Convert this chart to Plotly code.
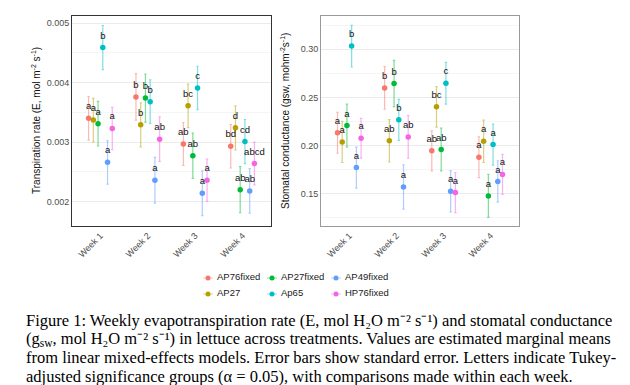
import plotly.graph_objects as go

# ---------------- data ----------------
weeks = ["Week 1", "Week 2", "Week 3", "Week 4"]
treatments = ["AP76fixed", "AP27", "AP27fixed", "Ap65", "AP49fixed", "HP76fixed"]
colors = ["#F8766D", "#B79F00", "#00BA38", "#00BFC4", "#619CFF", "#F564E3"]

# Transpiration rate E (mol m-2 s-1): estimated marginal means, SE, letters per week
e_mean_AP76fixed = [0.00340, 0.00376, 0.00297, 0.00293]
e_mean_AP27 = [0.00337, 0.00329, 0.00361, 0.00324]
e_mean_AP27fixed = [0.00331, 0.00374, 0.00277, 0.00220]
e_mean_Ap65 = [0.00459, 0.00368, 0.00391, 0.00301]
e_mean_AP49fixed = [0.00266, 0.00236, 0.00214, 0.00218]
e_mean_HP76fixed = [0.00323, 0.00305, 0.00236, 0.00264]

e_se_AP76fixed = [0.000365, 0.000390, 0.000360, 0.000365]
e_se_AP27 = [0.000365, 0.000370, 0.000365, 0.000370]
e_se_AP27fixed = [0.000375, 0.000405, 0.000380, 0.000387]
e_se_Ap65 = [0.000370, 0.000365, 0.000365, 0.000370]
e_se_AP49fixed = [0.000365, 0.000385, 0.000375, 0.000375]
e_se_HP76fixed = [0.000355, 0.000375, 0.000355, 0.000360]

e_lab_AP76fixed = ["a", "b", "ab", "bd"]
e_lab_AP27 = ["a", "b", "bc", "d"]
e_lab_AP27fixed = ["a", "b", "ab", "ab"]
e_lab_Ap65 = ["b", "b", "c", "cd"]
e_lab_AP49fixed = ["a", "a", "a", "ab"]
e_lab_HP76fixed = ["a", "ab", "a", "abcd"]

# Stomatal conductance gsw
g_mean_AP76fixed = [0.2132, 0.2599, 0.1945, 0.1879]
g_mean_AP27 = [0.2038, 0.2049, 0.2402, 0.2045]
g_mean_AP27fixed = [0.2208, 0.2644, 0.1958, 0.1477]
g_mean_Ap65 = [0.3033, 0.2267, 0.2648, 0.2010]
g_mean_AP49fixed = [0.1771, 0.1570, 0.1525, 0.1626]
g_mean_HP76fixed = [0.2076, 0.2090, 0.1511, 0.1700]

g_se_AP76fixed = [0.0212, 0.0222, 0.0208, 0.0212]
g_se_AP27 = [0.0214, 0.0220, 0.0211, 0.0219]
g_se_AP27fixed = [0.0222, 0.0240, 0.0222, 0.0224]
g_se_Ap65 = [0.0217, 0.0213, 0.0217, 0.0213]
g_se_AP49fixed = [0.0213, 0.0230, 0.0215, 0.0214]
g_se_HP76fixed = [0.0207, 0.0220, 0.0208, 0.0208]

g_lab_AP76fixed = ["a", "b", "ab", "a"]
g_lab_AP27 = ["a", "ab", "bc", "a"]
g_lab_AP27fixed = ["a", "b", "ab", "a"]
g_lab_Ap65 = ["b", "b", "c", "a"]
g_lab_AP49fixed = ["a", "a", "a", "a"]
g_lab_HP76fixed = ["a", "ab", "a", "a"]

e_ticks = [0.002, 0.003, 0.004, 0.005]
g_ticks = [0.15, 0.20, 0.25, 0.30]

e_title = "Transpiration rate (E, mol m<sup>-2</sup> s<sup>-1</sup>)"
g_title = "Stomatal conductance (gsw, mohm<sup>-2</sup>s<sup>-1</sup>)"

caption_lines = [
    "Figure 1: Weekly evapotranspiration rate (E, mol H₂O m⁻² s⁻¹) and stomatal conductance",
    "(g<sub>sw</sub>, mol H₂O m⁻² s⁻¹) in lettuce across treatments. Values are estimated marginal means",
    "from linear mixed-effects models. Error bars show standard error. Letters indicate Tukey-",
    "adjusted significance groups (α = 0.05), with comparisons made within each week.",
]

# ---------------- assemble ----------------
e_means = [e_mean_AP76fixed, e_mean_AP27, e_mean_AP27fixed, e_mean_Ap65, e_mean_AP49fixed, e_mean_HP76fixed]
e_ses = [e_se_AP76fixed, e_se_AP27, e_se_AP27fixed, e_se_Ap65, e_se_AP49fixed, e_se_HP76fixed]
e_labs = [e_lab_AP76fixed, e_lab_AP27, e_lab_AP27fixed, e_lab_Ap65, e_lab_AP49fixed, e_lab_HP76fixed]
g_means = [g_mean_AP76fixed, g_mean_AP27, g_mean_AP27fixed, g_mean_Ap65, g_mean_AP49fixed, g_mean_HP76fixed]
g_ses = [g_se_AP76fixed, g_se_AP27, g_se_AP27fixed, g_se_Ap65, g_se_AP49fixed, g_se_HP76fixed]
g_labs = [g_lab_AP76fixed, g_lab_AP27, g_lab_AP27fixed, g_lab_Ap65, g_lab_AP49fixed, g_lab_HP76fixed]

W, H = 630, 385


def fx(p):
    return p / W


def fy(p):
    return 1 - p / H


def rgba(hexcol, a):
    h = hexcol.lstrip("#")
    r, g, b = int(h[0:2], 16), int(h[2:4], 16), int(h[4:6], 16)
    return f"rgba({r},{g},{b},{a})"


DODGE = 0.1
fig = go.Figure()
text_traces = []
for k, (name, col) in enumerate(zip(treatments, colors)):
    off = (k - (len(treatments) - 1) / 2) * DODGE
    xs = [i + 1 + off for i in range(len(weeks))]
    panels = [(e_means[k], e_ses[k], e_labs[k], "x", "y"),
              (g_means[k], g_ses[k], g_labs[k], "x2", "y2")]
    for p, (means, ses, labs, xa, ya) in enumerate(panels):
        fig.add_trace(go.Scatter(
            x=xs, y=means, mode="markers", name=name,
            marker=dict(color=col, size=5.5),
            error_y=dict(type="data", array=ses, color=rgba(col, 0.5), thickness=1.2, width=1.2),
            xaxis=xa, yaxis=ya, showlegend=False,
        ))
        text_traces.append(go.Scatter(
            x=xs, y=means, mode="markers+text", text=labs, textposition="top center",
            marker=dict(size=9, color="rgba(0,0,0,0)"),
            textfont=dict(size=9.5, color="#111111", family="Liberation Sans, Arial"),
            xaxis=xa, yaxis=ya, showlegend=False, hoverinfo="skip",
        ))
for t in text_traces:
    fig.add_trace(t)

# ---- legend: 3 columns x 2 rows, filled column-wise (ggplot guide), on a pixel-scaled helper axis
LEG_X0, LEG_X1, LEG_Y0, LEG_Y1 = 150, 450, 260, 296
LEG_COL_X = [200, 264, 328]
LEG_ROW_Y = [270, 286]
leg_x = [LEG_COL_X[k // 2] for k in range(len(treatments))]
leg_y = [LEG_ROW_Y[k % 2] for k in range(len(treatments))]
for k, (name, col) in enumerate(zip(treatments, colors)):
    fig.add_trace(go.Scatter(
        x=[leg_x[k]], y=[leg_y[k]], mode="markers", marker=dict(color=col, size=5),
        error_x=dict(type="constant", value=5, color=rgba(col, 0.45), thickness=1, width=0),
        xaxis="x3", yaxis="y3", showlegend=False, hoverinfo="skip", name=name,
    ))
fig.add_trace(go.Scatter(
    x=[v + 9 for v in leg_x], y=leg_y, mode="text", text=treatments, textposition="middle right",
    textfont=dict(size=9.5, color="#1A1A1A", family="Liberation Sans, Arial"),
    xaxis="x3", yaxis="y3", showlegend=False, hoverinfo="skip",
))

tickfont = dict(size=9, color="#4D4D4D", family="Liberation Sans, Arial")
titlefont = dict(size=10, color="#111111", family="Liberation Sans, Arial")

xcommon = dict(range=[0.4, 4.6], tickmode="array", tickvals=[1, 2, 3, 4], ticktext=weeks,
               tickangle=-45, showgrid=False, zeroline=False, showline=True, mirror=True,
               linewidth=1, tickfont=tickfont, ticks="", automargin=False)
ydomain = [fy(218), fy(8)]

fig.update_layout(
    width=W, height=H, margin=dict(l=0, r=0, t=0, b=0),
    paper_bgcolor="white", plot_bgcolor="white",
    showlegend=False,
    xaxis=dict(domain=[fx(64), fx(263)], anchor="y", linecolor="#333333", **xcommon),
    xaxis2=dict(domain=[fx(313), fx(511)], anchor="y2", linecolor="#999999", **xcommon),
    yaxis=dict(domain=ydomain, anchor="x", range=[0.00159, 0.00512], tickmode="array",
               tickvals=e_ticks, tickformat=".3f", showgrid=True, gridcolor="#EBEBEB", gridwidth=1,
               minor=dict(dtick=0.0005, showgrid=True, gridcolor="#F5F5F5", gridwidth=1, tick0=0.0015),
               zeroline=False, showline=True, mirror=True, linecolor="#333333", linewidth=1,
               tickfont=tickfont, ticks="", automargin=False),
    yaxis2=dict(domain=ydomain, anchor="x2", range=[0.1164, 0.3346], tickmode="array",
                tickvals=g_ticks, tickformat=".2f", showgrid=True, gridcolor="#EBEBEB", gridwidth=1,
                minor=dict(dtick=0.025, showgrid=True, gridcolor="#F5F5F5", gridwidth=1, tick0=0.1),
                zeroline=False, showline=True, mirror=True, linecolor="#999999", linewidth=1,
                tickfont=tickfont, ticks="", automargin=False),
    xaxis3=dict(domain=[fx(LEG_X0), fx(LEG_X1)], range=[LEG_X0, LEG_X1], visible=False,
                anchor="y3", fixedrange=True),
    yaxis3=dict(domain=[fy(LEG_Y1), fy(LEG_Y0)], range=[LEG_Y1, LEG_Y0], visible=False,
                anchor="x3", fixedrange=True),
)

# axis titles placed like ggplot's (centered on the panel, left of the tick labels)
ymid = (ydomain[0] + ydomain[1]) / 2
fig.add_annotation(text=e_title, xref="paper", yref="paper", x=fx(28), y=ymid, textangle=-90,
                   xanchor="center", yanchor="middle", showarrow=False, font=titlefont)
fig.add_annotation(text=g_title, xref="paper", yref="paper", x=fx(277), y=ymid, textangle=-90,
                   xanchor="center", yanchor="middle", showarrow=False, font=titlefont)

caption_centers = [312.4, 331.2, 349.8, 368.4]
for line, yc in zip(caption_lines, caption_centers):
    fig.add_annotation(text=line, xref="paper", yref="paper", x=fx(16), y=fy(yc),
                       xanchor="left", yanchor="middle", align="left", showarrow=False,
                       font=dict(family="Liberation Serif, Times New Roman", size=16.5, color="black"))

fig.write_html("out.html")
